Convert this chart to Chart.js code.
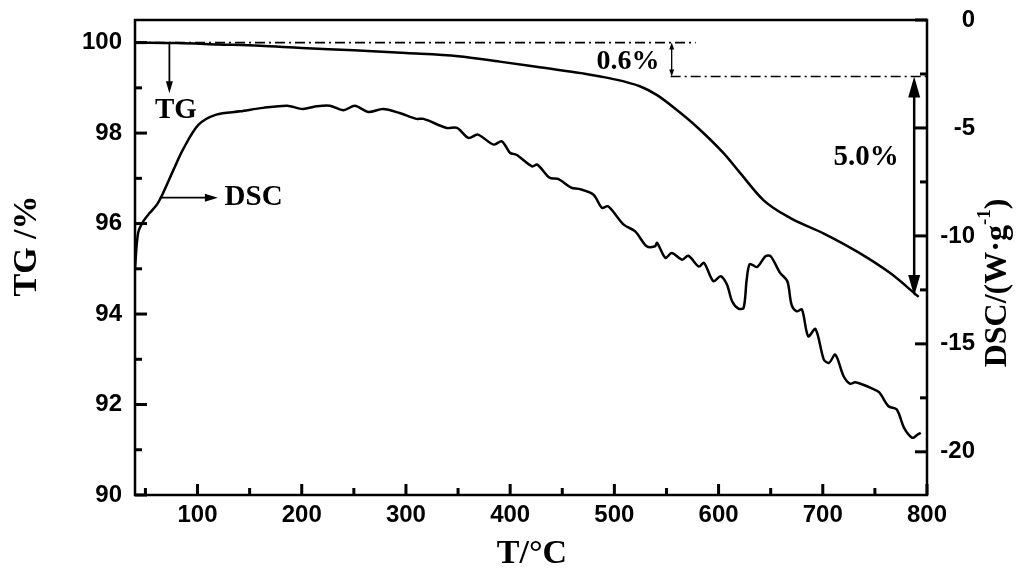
<!DOCTYPE html>
<html>
<head>
<meta charset="utf-8">
<script src="https://cdn.jsdelivr.net/npm/chart.js@4.4.1/dist/chart.umd.min.js"></script>
<style>
  html, body { margin: 0; padding: 0; background: #fff; }
  #wrap { width: 1016px; height: 572px; }
</style>
</head>
<body>
<div id="wrap"><canvas id="tgChart" width="1016" height="572"></canvas></div>
<script>
// -----------------------------
// Data
// -----------------------------
const tgTemp = [40, 80, 120, 160, 200, 250, 300, 350, 390, 430, 470, 496, 525, 541, 560, 579, 605, 621, 643, 669, 701, 733, 765, 792];
const tgVal  = [100.0, 99.99, 99.96, 99.93, 99.88, 99.83, 99.77, 99.7, 99.58, 99.45, 99.32, 99.21, 99.03, 98.84, 98.51, 98.14, 97.55, 97.11, 96.52, 96.12, 95.78, 95.38, 94.9, 94.38];

const dscTemp = [40, 43, 48, 54, 61, 67, 77, 86, 101, 118, 141, 163, 186, 201, 214, 227, 240, 251, 264, 278, 294, 310, 317, 339, 349, 360, 369, 384, 392, 400, 406, 421, 426, 438, 446, 459, 466, 480, 488, 494, 509, 520, 531, 539, 541, 549, 555, 565, 571, 581, 586, 595, 602, 608, 613, 619, 624, 627, 630, 637, 645, 650, 659, 666, 670, 675, 680, 686, 693, 701, 706, 712, 720, 726, 731, 738, 746, 754, 763, 771, 778, 786, 791, 794];
const dscVal  = [-11.5, -9.86, -9.32, -8.94, -8.55, -8.01, -6.93, -6.0, -4.85, -4.38, -4.23, -4.07, -3.97, -4.12, -4.0, -3.97, -4.18, -3.97, -4.26, -4.12, -4.31, -4.58, -4.58, -5.0, -5.0, -5.46, -5.31, -5.77, -5.62, -6.16, -6.24, -6.78, -6.7, -7.31, -7.36, -7.78, -7.82, -8.09, -8.7, -8.63, -9.48, -9.79, -10.48, -10.48, -10.32, -11.02, -10.79, -11.1, -10.92, -11.42, -11.25, -12.1, -11.87, -12.25, -13.03, -13.37, -13.33, -12.02, -11.3, -11.44, -10.94, -10.94, -11.71, -12.1, -13.18, -13.49, -13.41, -14.65, -14.31, -15.73, -15.88, -15.5, -16.5, -16.84, -16.78, -16.88, -17.04, -17.24, -17.89, -18.04, -18.89, -19.35, -19.2, -19.12];

// tick labels
const xMajor = [100, 200, 300, 400, 500, 600, 700, 800];
const xMinor = [50, 150, 250, 350, 450, 550, 650, 750];
const tgMajor = [90, 92, 94, 96, 98, 100];
const tgMinor = [91, 93, 95, 97, 99];
const dscMajor = [-20, -15, -10, -5, 0];
const dscMinor = [-17.5, -12.5, -7.5, -2.5];

// mass-loss guide lines (dash-dot)
const stepStart = 100.0;
const stepEnd = 99.25;
const upperGuide = [40, 578];
const lowerGuide = [554, 800];
const smallArrowT = 555;
const bigArrowT = 787.7;
const bigArrowEnd = 94.4;

// -----------------------------
// Plugin: frame, inward ticks, arrows, labels
// -----------------------------
const SERIF = "'Liberation Serif', 'Times New Roman', serif";

function arrowHead(ctx, x, y, dir, len, w) {
  // dir: 1 = pointing down, -1 = pointing up
  ctx.beginPath();
  ctx.moveTo(x, y);
  ctx.lineTo(x - w / 2, y - dir * len);
  ctx.lineTo(x + w / 2, y - dir * len);
  ctx.closePath();
  ctx.fill();
}

function rotatedText(ctx, cx, cy, parts) {
  ctx.save();
  ctx.translate(cx, cy);
  ctx.rotate(-Math.PI / 2);
  let total = 0;
  parts.forEach(p => { ctx.font = p.font; total += ctx.measureText(p.t).width; });
  let x = -total / 2;
  ctx.textBaseline = "middle";
  ctx.textAlign = "left";
  parts.forEach(p => {
    ctx.font = p.font;
    ctx.fillText(p.t, x, p.dy || 0);
    x += ctx.measureText(p.t).width;
  });
  ctx.restore();
}

const noPad = s => { s.paddingTop = 0; s.paddingBottom = 0; s.paddingLeft = 0; s.paddingRight = 0; };

const decorPlugin = {
  id: "decor",
  afterDraw(chart) {
    const ctx = chart.ctx;
    const a = chart.chartArea;
    const sx = chart.scales.x;
    const yl = chart.scales.yTG;
    const yr = chart.scales.yDSC;

    ctx.save();
    ctx.setLineDash([]);
    ctx.strokeStyle = "#000";
    ctx.fillStyle = "#000";

    // frame
    ctx.lineWidth = 2.5;
    ctx.strokeRect(a.left, a.top, a.right - a.left, a.bottom - a.top);

    // inward ticks
    xMajor.forEach(v => { const p = sx.getPixelForValue(v); ctx.fillRect(p - 1.5, a.bottom - 11, 3, 11); });
    xMinor.forEach(v => { const p = sx.getPixelForValue(v); ctx.fillRect(p - 1.5, a.bottom - 7, 3, 7); });
    tgMajor.forEach(v => { const p = yl.getPixelForValue(v); ctx.fillRect(a.left, p - 1.5, 12, 3); });
    tgMinor.forEach(v => { const p = yl.getPixelForValue(v); ctx.fillRect(a.left, p - 1.5, 7, 3); });
    dscMajor.forEach(v => { const p = yr.getPixelForValue(v); ctx.fillRect(a.right - 12, p - 1.5, 12, 3); });
    dscMinor.forEach(v => { const p = yr.getPixelForValue(v); ctx.fillRect(a.right - 7, p - 1.5, 7, 3); });

    // TG arrow
    ctx.lineWidth = 1.8;
    let x0 = sx.getPixelForValue(73);
    let y0 = yl.getPixelForValue(100);
    let y1 = yl.getPixelForValue(98.88);
    ctx.beginPath(); ctx.moveTo(x0, y0); ctx.lineTo(x0, y1 - 8); ctx.stroke();
    arrowHead(ctx, x0, y1, 1, 12, 7);

    // DSC arrow (horizontal)
    const ya = yr.getPixelForValue(-8.23);
    const xa0 = sx.getPixelForValue(63.8);
    const xa1 = sx.getPixelForValue(119.5);
    ctx.beginPath(); ctx.moveTo(xa0, ya); ctx.lineTo(xa1 - 10, ya); ctx.stroke();
    ctx.beginPath();
    ctx.moveTo(xa1, ya); ctx.lineTo(xa1 - 13, ya - 4); ctx.lineTo(xa1 - 13, ya + 4); ctx.closePath(); ctx.fill();

    // small double arrow (0.6%)
    ctx.lineWidth = 1.3;
    x0 = sx.getPixelForValue(smallArrowT);
    y0 = yl.getPixelForValue(stepStart);
    y1 = yl.getPixelForValue(stepEnd);
    ctx.beginPath(); ctx.moveTo(x0, y0 + 5); ctx.lineTo(x0, y1 - 5); ctx.stroke();
    arrowHead(ctx, x0, y0, -1, 7, 5);
    arrowHead(ctx, x0, y1, 1, 7, 5);

    // big double arrow (5.0%)
    ctx.lineWidth = 2.5;
    x0 = sx.getPixelForValue(bigArrowT);
    y0 = yl.getPixelForValue(stepEnd);
    y1 = yl.getPixelForValue(bigArrowEnd);
    ctx.beginPath(); ctx.moveTo(x0, y0 + 15); ctx.lineTo(x0, y1 - 15); ctx.stroke();
    arrowHead(ctx, x0, y0, -1, 21, 12);
    arrowHead(ctx, x0, y1, 1, 21, 12);

    // annotation texts
    ctx.textBaseline = "middle";
    ctx.textAlign = "center";
    ctx.font = "bold 29px " + SERIF;
    ctx.fillText("TG", sx.getPixelForValue(79.2), yl.getPixelForValue(98.5));
    ctx.textAlign = "left";
    ctx.fillText("DSC", sx.getPixelForValue(126), yr.getPixelForValue(-8.23));
    ctx.textAlign = "center";
    ctx.font = "bold 28px " + SERIF;
    ctx.fillText("0.6%", sx.getPixelForValue(513), yl.getPixelForValue(99.57));
    ctx.font = "bold 29px " + SERIF;
    ctx.fillText("5.0%", sx.getPixelForValue(741.6), yl.getPixelForValue(97.47));

    // axis titles
    ctx.font = "bold 34px " + SERIF;
    ctx.fillText("T/\u00B0C", (a.left + a.right) / 2 + 1, 554);
    rotatedText(ctx, 27, 246, [{ t: "TG /%", font: "bold 34px " + SERIF }]);
    rotatedText(ctx, 998, 283, [
      { t: "DSC/(W\u00B7g", font: "bold 32px " + SERIF },
      { t: "-1", font: "bold 19px " + SERIF, dy: -13 },
      { t: ")", font: "bold 32px " + SERIF }
    ]);

    ctx.restore();
  }
};

// -----------------------------
// Chart
// -----------------------------
const tickFont = { family: "'Liberation Sans', Arial, sans-serif", size: 24, weight: "bold" };
const pts = (xv, yv) => xv.map((x, i) => ({ x: x, y: yv[i] }));

new Chart(document.getElementById("tgChart").getContext("2d"), {
  type: "line",
  data: {
    datasets: [
      {
        label: "TG",
        data: pts(tgTemp, tgVal),
        yAxisID: "yTG",
        borderColor: "#000",
        borderWidth: 2.5,
        pointRadius: 0,
        cubicInterpolationMode: "monotone",
        fill: false
      },
      {
        label: "DSC",
        data: pts(dscTemp, dscVal),
        yAxisID: "yDSC",
        borderColor: "#000",
        borderWidth: 2.5,
        pointRadius: 0,
        tension: 0.3,
        fill: false
      },
      {
        label: "upper",
        data: pts(upperGuide, [stepStart, stepStart]),
        yAxisID: "yTG",
        borderColor: "#000",
        borderWidth: 1.6,
        borderDash: [10, 4, 2, 4],
        pointRadius: 0
      },
      {
        label: "lower",
        data: pts(lowerGuide, [stepEnd, stepEnd]),
        yAxisID: "yTG",
        borderColor: "#000",
        borderWidth: 1.6,
        borderDash: [10, 4, 2, 4],
        pointRadius: 0
      }
    ]
  },
  options: {
    responsive: false,
    animation: false,
    layout: { padding: { top: 20, right: 41, left: 0, bottom: 0 } },
    plugins: { legend: { display: false }, tooltip: { enabled: false } },
    scales: {
      x: {
        type: "linear",
        min: 40,
        max: 800,
        afterBuildTicks: s => { s.ticks = xMajor.map(v => ({ value: v })); },
        afterFit: s => { s.height = 77; noPad(s); },
        grid: { display: false, drawTicks: false },
        border: { display: false },
        ticks: { font: tickFont, color: "#000", padding: 6, maxRotation: 0 }
      },
      yTG: {
        position: "left",
        min: 90,
        max: 100.5,
        afterBuildTicks: s => { s.ticks = tgMajor.map(v => ({ value: v })); },
        afterFit: s => { s.width = 135; noPad(s); },
        grid: { display: false, drawTicks: false },
        border: { display: false },
        ticks: { font: tickFont, color: "#000", padding: 13 }
      },
      yDSC: {
        position: "right",
        min: -22,
        max: 0,
        afterBuildTicks: s => { s.ticks = dscMajor.map(v => ({ value: v })); },
        afterFit: s => { s.width = 48; noPad(s); },
        grid: { display: false, drawTicks: false },
        border: { display: false },
        ticks: { font: tickFont, color: "#000", crossAlign: "far" }
      }
    }
  },
  plugins: [decorPlugin]
});
</script>
</body>
</html>
